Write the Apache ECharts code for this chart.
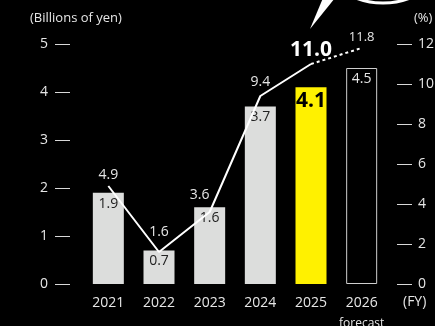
<!DOCTYPE html>
<html>
<head>
<meta charset="utf-8">
<script src="https://cdn.jsdelivr.net/npm/echarts@6/dist/echarts.min.js"></script>
<style>
  html, body { margin: 0; padding: 0; background: #000; }
  #chart { width: 435px; height: 326px; }
</style>
</head>
<body>
<div id="chart"></div>
<script>
// Fiscal years on the category axis
const years = ['2021', '2022', '2023', '2024', '2025', '2026'];
// Bars: billions of yen (2026 is a forecast)
const profitValues = [1.9, 0.7, 1.6, 3.7, 4.1, 4.5];
// Line: percentage on the right axis (2026 is a forecast)
const ratioValues = [4.9, 1.6, 3.6, 9.4, 11.0, 11.8];
// Axis ticks
const leftTicks = [0, 1, 2, 3, 4, 5];
const rightTicks = [0, 2, 4, 6, 8, 10, 12];

const FONT = '"Open Sans", sans-serif';
const TEXT = '#e6e6e6';
const GREY = '#dcdddc';
const YELLOW = '#fff100';

// Nudges for the percentage labels so they clear the line
const lineLabelShift = [[0, 2], [0, -7], [-10, -4], [0, -1], [0, 2], [0, 1]];

const chart = echarts.init(document.getElementById('chart'), null, { renderer: 'canvas' });

const barData = profitValues.map(function (v, i) {
  if (i === 4) {
    return {
      value: v,
      itemStyle: { color: YELLOW },
      label: { fontSize: 21, fontWeight: 'bold', color: '#000', distance: 3 }
    };
  }
  if (i === 5) {
    return {
      value: v,
      itemStyle: { color: '#000', borderColor: '#cfcfcf', borderWidth: 1 },
      label: { color: TEXT }
    };
  }
  return { value: v };
});

const solidData = ratioValues.map(function (v, i) {
  if (i > 4) return '-';
  if (i === 4) {
    return { value: v, label: { show: true, fontSize: 21, fontWeight: 'bold', color: '#fff' } };
  }
  return { value: v };
});

const dashedData = ratioValues.map(function (v, i) {
  if (i < 4) return '-';
  return { value: v, label: { show: i === 5 } };
});

const hiddenSymbol = {
  symbol: 'circle',
  symbolSize: 1,
  showSymbol: true,
  itemStyle: { color: 'rgba(0,0,0,0)' }
};

function shiftLabel(params) {
  const s = lineLabelShift[params.dataIndex] || [0, 0];
  return { dx: s[0], dy: s[1], hideOverlap: false };
}

function oneDecimal(p) {
  return Number(p.value).toFixed(1);
}

chart.setOption({
  backgroundColor: '#000',
  animation: false,
  textStyle: { fontFamily: FONT },
  grid: { left: 83, right: 48, top: 44, bottom: 42, outerBoundsMode: 'none', containLabel: false },
  xAxis: {
    type: 'category',
    data: years,
    axisLine: { show: false },
    axisTick: { show: false },
    axisLabel: {
      interval: 0,
      margin: 12,
      color: TEXT,
      fontSize: 14,
      fontFamily: FONT,
      formatter: function (v) {
        return v === '2026' ? v + '\n{f|forecast}' : v;
      },
      rich: { f: { fontSize: 12, color: TEXT, fontFamily: FONT, lineHeight: 20, verticalAlign: 'bottom' } }
    }
  },
  yAxis: [
    {
      type: 'value',
      min: leftTicks[0],
      max: leftTicks[leftTicks.length - 1],
      interval: 1,
      offset: 13,
      axisLine: { show: false },
      axisTick: { show: true, length: 15, lineStyle: { color: '#d8d8d8', width: 1 } },
      splitLine: { show: false },
      axisLabel: { margin: 22, color: TEXT, fontSize: 14, fontFamily: FONT }
    },
    {
      type: 'value',
      position: 'right',
      min: rightTicks[0],
      max: rightTicks[rightTicks.length - 1],
      interval: 2,
      offset: 10,
      axisLine: { show: false },
      axisTick: { show: true, length: 15, lineStyle: { color: '#d8d8d8', width: 1 } },
      splitLine: { show: false },
      axisLabel: { margin: 21, color: TEXT, fontSize: 14, fontFamily: FONT }
    }
  ],
  series: [
    {
      type: 'bar',
      data: barData,
      barWidth: 31,
      itemStyle: { color: GREY },
      label: {
        show: true,
        position: 'insideTop',
        distance: 4,
        color: '#222',
        fontSize: 14,
        fontFamily: FONT,
        formatter: oneDecimal
      },
      z: 1
    },
    Object.assign({
      type: 'line',
      yAxisIndex: 1,
      data: solidData,
      lineStyle: { color: '#fff', width: 2 },
      label: {
        show: true,
        position: 'top',
        distance: 5,
        color: TEXT,
        fontSize: 14,
        fontFamily: FONT,
        formatter: oneDecimal
      },
      labelLayout: shiftLabel,
      z: 3
    }, hiddenSymbol),
    Object.assign({
      type: 'line',
      yAxisIndex: 1,
      data: dashedData,
      lineStyle: { color: '#fff', width: 2, type: [3, 3] },
      label: {
        show: true,
        position: 'top',
        distance: 5,
        color: TEXT,
        fontSize: 13,
        fontFamily: FONT,
        formatter: oneDecimal
      },
      labelLayout: shiftLabel,
      z: 3
    }, hiddenSymbol)
  ],
  graphic: [
    {
      type: 'text',
      left: 30,
      top: 12,
      style: { text: '(Billions of yen)', fill: TEXT, font: '13px ' + FONT }
    },
    {
      type: 'text',
      left: 414,
      top: 12,
      style: { text: '(%)', fill: TEXT, font: '13px ' + FONT }
    },
    {
      type: 'text',
      left: 403,
      top: 295,
      style: { text: '(FY)', fill: TEXT, font: '14px ' + FONT }
    },
    {
      type: 'circle',
      shape: { cx: 383, cy: -70, r: 73 },
      style: { fill: '#000', stroke: '#fff', lineWidth: 3 },
      silent: true
    },
    {
      type: 'polygon',
      shape: { points: [[310, 29], [323, -2], [335, -2]] },
      style: { fill: '#fff' },
      silent: true
    }
  ]
});
</script>
</body>
</html>
